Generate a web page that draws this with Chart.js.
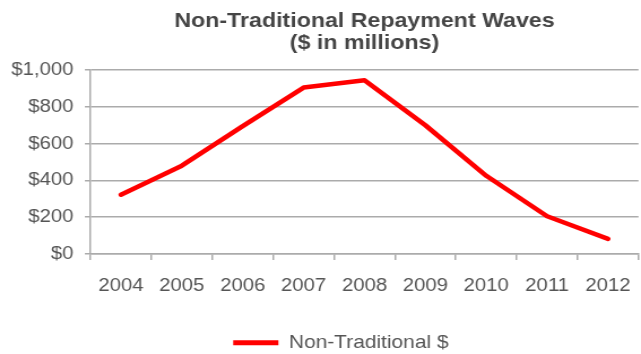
<!DOCTYPE html>
<html>
<head>
<meta charset="utf-8">
<script src="https://cdn.jsdelivr.net/npm/chart.js@4/dist/chart.umd.min.js"></script>
<style>
    html, body { margin: 0; padding: 0; background: #fff; overflow: hidden; }
    /* 가로로 살짝 늘린 레이아웃 */
    #wrap {
        width: 567px;
        height: 354px;
        position: relative;
        transform: scaleX(1.1305);
        transform-origin: 0 0;
    }
</style>
</head>
<body>
<div id="wrap"><canvas id="wavesChart"></canvas></div>
<script>
'use strict';

// 데이터
const years = ['2004', '2005', '2006', '2007', '2008', '2009', '2010', '2011', '2012'];
const nonTraditional = [322, 480, 695, 905, 945, 700, 425, 205, 82];
const yTicks = [0, 200, 400, 600, 800, 1000];

const colors = {
    line: '#ff0000',
    text: '#555555',
    title: '#454545',
    grid: '#ababab'
};

const FONT = "'Liberation Sans', Arial, sans-serif";
const LEGEND_SHIFT = 18; // 범례 가로 이동
const LEGEND_DROP = 8;   // 범례 세로 이동

// 범례 위치 보정 플러그인
const legendNudge = {
    id: 'legendNudge',
    afterLayout(chart) {
        const lg = chart.legend;
        if (lg) {
            lg.left += LEGEND_SHIFT;
            lg.right += LEGEND_SHIFT;
            lg.top += LEGEND_DROP;
            lg.bottom += LEGEND_DROP;
        }
    }
};

new Chart(document.getElementById('wavesChart'), {
    type: 'line',
    data: {
        labels: years,
        datasets: [{
            label: 'Non-Traditional $',
            data: nonTraditional,
            borderColor: colors.line,
            backgroundColor: colors.line,
            borderWidth: 4.5,
            tension: 0,
            pointRadius: 0,
            pointHoverRadius: 0,
            borderCapStyle: 'round',
            borderJoinStyle: 'round'
        }]
    },
    options: {
        responsive: true,
        maintainAspectRatio: false,
        animation: false,
        layout: {
            padding: { left: 0, right: 0, top: 0, bottom: 0 }
        },
        plugins: {
            title: {
                display: true,
                fullSize: false,
                text: ['Non-Traditional Repayment Waves', '($ in millions)'],
                color: colors.title,
                font: { family: FONT, size: 20.5, weight: 'bold', lineHeight: 1.1 },
                padding: { top: 10, bottom: 15 }
            },
            legend: {
                position: 'bottom',
                labels: {
                    color: colors.text,
                    font: { family: FONT, size: 18.5 },
                    boxWidth: 40,
                    boxHeight: 5,
                    padding: 1,
                    // 범례 막대는 테두리 없이 채우기만
                    generateLabels: chart =>
                        Chart.defaults.plugins.legend.labels.generateLabels(chart)
                            .map(item => ({ ...item, lineWidth: 0 }))
                }
            },
            tooltip: { enabled: false }
        },
        scales: {
            x: {
                offset: true,
                grid: {
                    offset: true,
                    drawOnChartArea: false,
                    drawTicks: true,
                    tickLength: 6,
                    color: colors.grid,
                    lineWidth: 1.5
                },
                border: { color: colors.grid, width: 1.5 },
                ticks: {
                    color: colors.text,
                    font: { family: FONT, size: 18 },
                    padding: 15,
                    maxRotation: 0
                },
                // 축 레이블과 범례 사이 여백, 오른쪽 끝까지 그리기
                afterFit: axis => {
                    axis.height += 13;
                    axis.paddingRight = 0;
                }
            },
            y: {
                min: 0,
                max: 1000,
                afterBuildTicks: axis => {
                    axis.ticks = yTicks.map(v => ({ value: v }));
                },
                grid: {
                    color: colors.grid,
                    lineWidth: 1.5,
                    tickLength: 5
                },
                border: { color: colors.grid, width: 1.5 },
                ticks: {
                    color: colors.text,
                    font: { family: FONT, size: 18 },
                    padding: 10,
                    callback: value => '$' + value.toLocaleString('en-US')
                }
            }
        }
    },
    plugins: [legendNudge]
});
</script>
</body>
</html>
